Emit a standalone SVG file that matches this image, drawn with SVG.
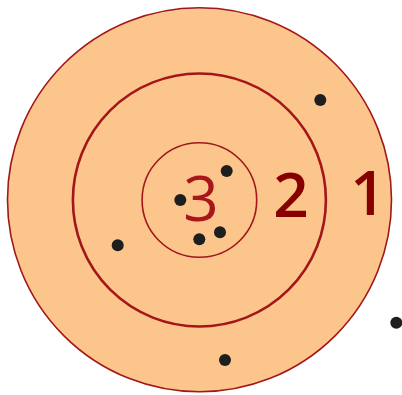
<svg xmlns="http://www.w3.org/2000/svg" width="402" height="395" viewBox="0 0 402 395">
<style>
.ring{fill:none;stroke:#a3161a}
.dot{fill:#1e1e1e}
.lbl{font-family:"Open Sans","DejaVu Sans",sans-serif;text-anchor:middle;font-size:62px}
</style>
<rect width="402" height="395" fill="#ffffff"/>
<g id="ring1"><circle cx="199.5" cy="199.8" r="192" fill="#fbc58c" stroke="#a3161a" stroke-width="1.6"/></g>
<g id="ring2"><circle class="ring" cx="199.4" cy="200" r="126.5" stroke-width="2.6" stroke="#9a1010"/></g>
<g id="ring3"><circle class="ring" cx="199.4" cy="200" r="57.3" stroke-width="1.6"/></g>
<g id="labels">
<text class="lbl" x="201" y="220.5" fill="#a8151b" font-weight="500">3</text>
<text class="lbl" x="291" y="217" fill="#860000" font-weight="600">2</text>
<text class="lbl" x="368" y="215" fill="#860000" font-weight="600">1</text>
</g>
<g id="dots">
<circle class="dot" cx="320.3" cy="100" r="6"/>
<circle class="dot" cx="226.7" cy="171" r="6"/>
<circle class="dot" cx="180.3" cy="200" r="6"/>
<circle class="dot" cx="220" cy="232.3" r="6"/>
<circle class="dot" cx="199.3" cy="239.3" r="6"/>
<circle class="dot" cx="117.7" cy="245.3" r="6"/>
<circle class="dot" cx="396.3" cy="322.7" r="6"/>
<circle class="dot" cx="225" cy="360" r="6"/>
</g>
</svg>
